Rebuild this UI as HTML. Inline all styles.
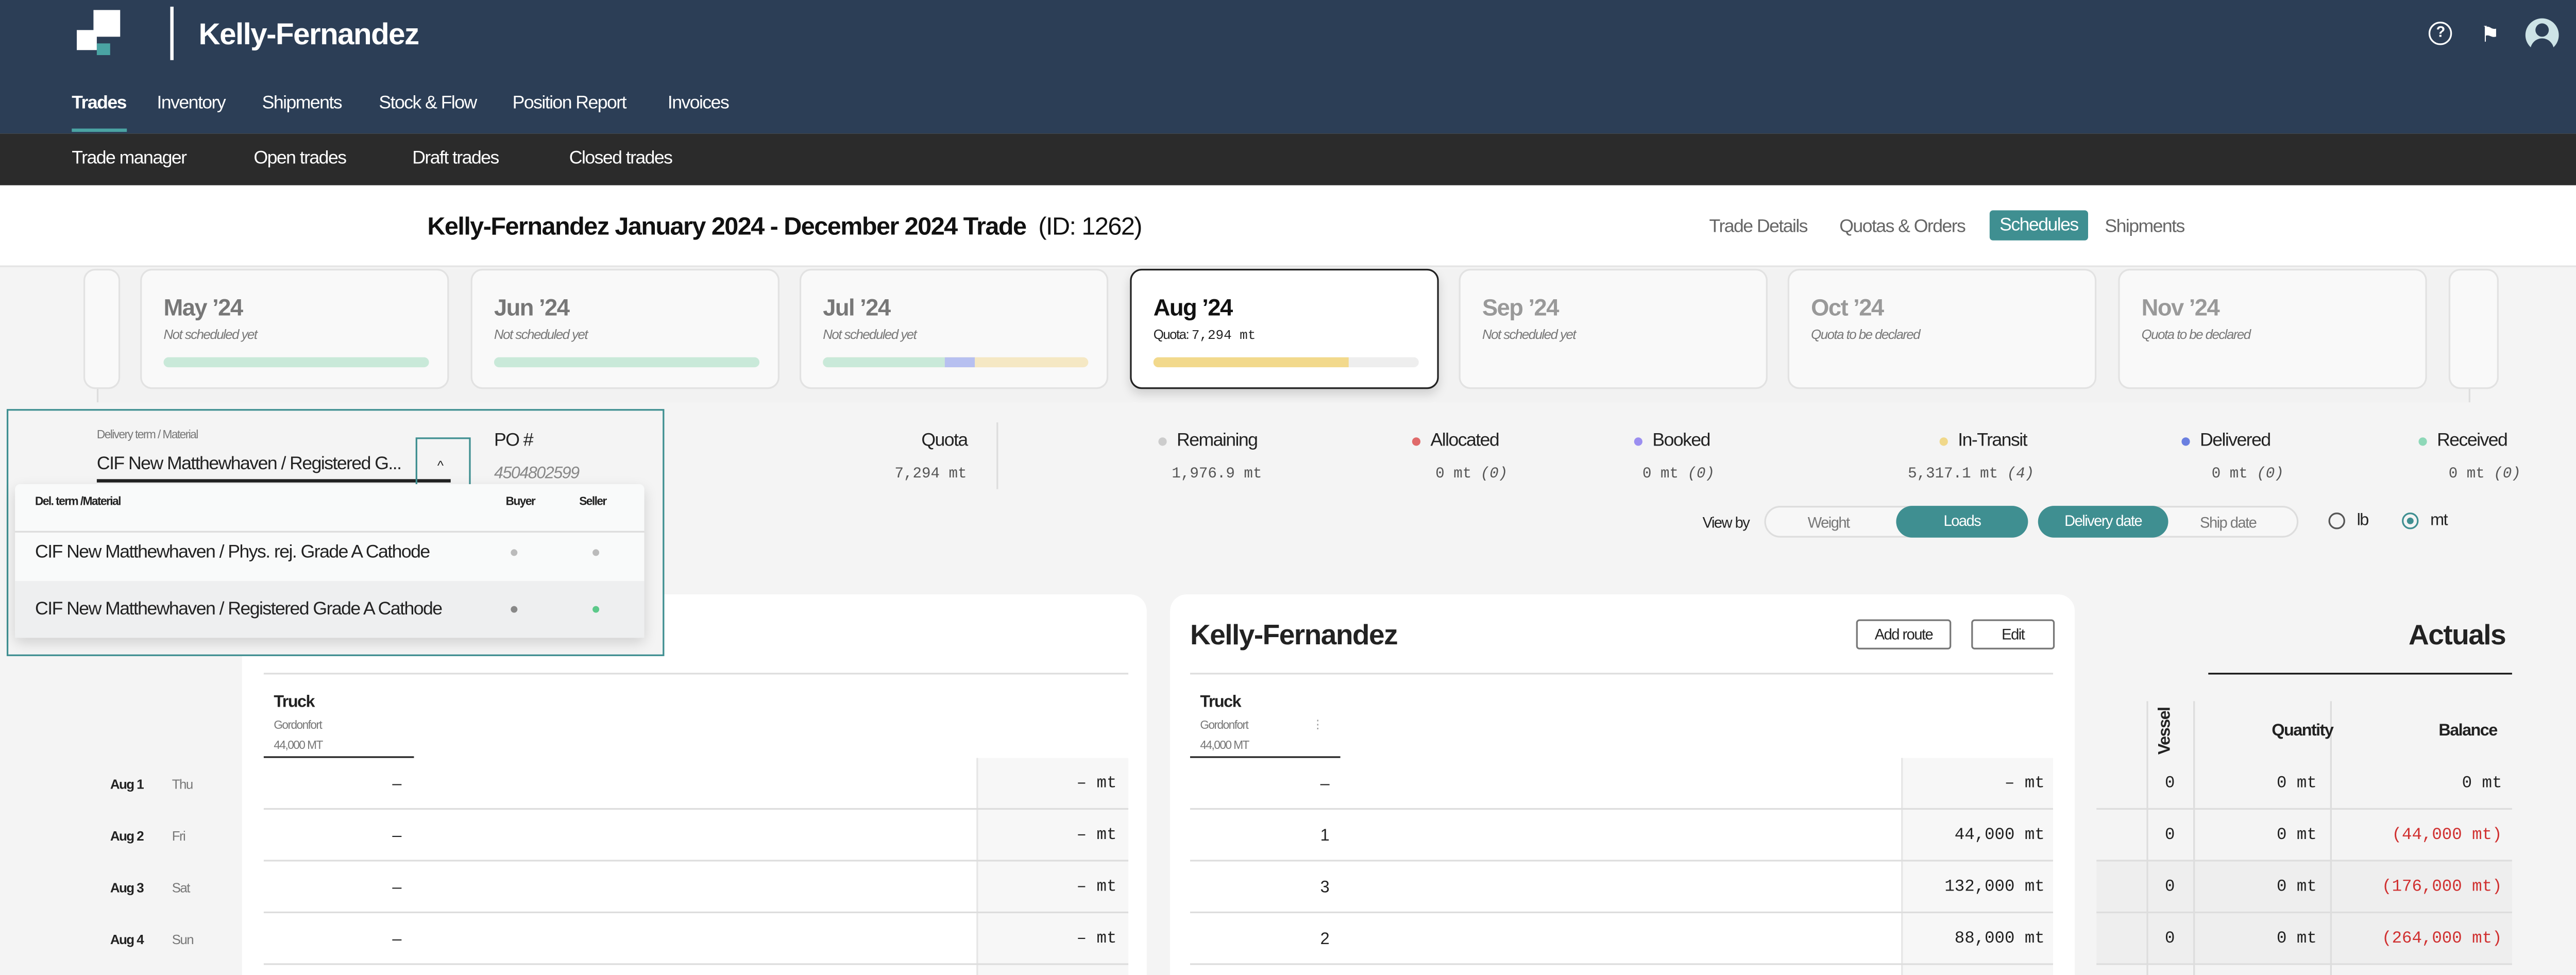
<!DOCTYPE html>
<html><head><meta charset="utf-8"><style>
*{margin:0;padding:0;box-sizing:border-box}
html,body{width:5080px;height:1893px;overflow:hidden;background:#f4f4f4}
#r{position:absolute;left:0;top:0;width:1568px;height:584px;transform:scale(3.2398,3.2414);transform-origin:0 0;font-family:"Liberation Sans",sans-serif;color:#222;background:#f4f4f4;overflow:hidden;letter-spacing:-0.03em}
.a{position:absolute;white-space:nowrap}
.m{font-family:"Liberation Mono",monospace;letter-spacing:0}
.c{transform:translateY(-50%)}
.card{position:absolute;top:161px;width:185px;height:72px;background:#f9f9f9;border:1px solid #e2e2e2;border-radius:7px}
.card .t{position:absolute;left:13px;top:14px;font-size:14px;font-weight:bold;color:#777}
.card .s{position:absolute;left:13px;top:34px;font-size:8px;font-style:italic;color:#777}
.card .b{position:absolute;left:13px;top:52px;width:159px;height:6px;border-radius:3px;background:#c9e9d9;overflow:hidden}
.dot{position:absolute;width:5px;height:5px;border-radius:50%}
.row{position:absolute;height:31px;border-bottom:1px solid #ddd}
</style></head><body><div id="r">
<div class="a" style="left:0;top:0;width:1568px;height:80px;background:#2c3e56"></div>
<div class="a" style="left:56px;top:6px;width:16px;height:16px;background:#fff"></div>
<div class="a" style="left:46px;top:18px;width:12px;height:12px;background:#fff"></div>
<div class="a" style="left:58px;top:26px;width:8px;height:7px;background:#4aa3a3"></div>
<div class="a" style="left:102px;top:4px;width:2px;height:32px;background:#fff"></div>
<div class="a c" style="left:119px;top:21px;font-size:18px;font-weight:bold;color:#fff">Kelly-Fernandez</div>
<div class="a" style="left:1455px;top:13px;width:14px;height:14px;border:1.5px solid #fff;border-radius:50%;color:#fff;font-size:9px;text-align:center;line-height:11px;font-weight:bold">?</div>
<div class="a c" style="left:1486px;top:21px;font-size:13px;color:#fff">⚑</div>
<div class="a" style="left:1513px;top:11px;width:20px;height:20px;border-radius:50%;background:#cde3e6"></div>
<div class="a" style="left:1519px;top:14px;width:8px;height:8px;border-radius:50%;background:#2c3e56"></div>
<div class="a" style="left:1516px;top:23px;width:14px;height:8px;border-radius:7px 7px 0 0;background:#2c3e56"></div>
<div class="a c" style="left:43px;top:62px;font-size:11px;font-weight:bold;color:#fff">Trades</div>
<div class="a" style="left:43px;top:77px;width:33px;height:2px;background:#4aa3a3"></div>
<div class="a c" style="left:94px;top:62px;font-size:11px;color:#fff">Inventory</div>
<div class="a c" style="left:157px;top:62px;font-size:11px;color:#fff">Shipments</div>
<div class="a c" style="left:227px;top:62px;font-size:11px;color:#fff">Stock &amp; Flow</div>
<div class="a c" style="left:307px;top:62px;font-size:11px;color:#fff">Position Report</div>
<div class="a c" style="left:400px;top:62px;font-size:11px;color:#fff">Invoices</div>
<div class="a" style="left:0;top:80px;width:1568px;height:31px;background:#2b2b2b"></div>
<div class="a c" style="left:43px;top:95px;font-size:11px;color:#fff">Trade manager</div>
<div class="a c" style="left:152px;top:95px;font-size:11px;color:#fff">Open trades</div>
<div class="a c" style="left:247px;top:95px;font-size:11px;color:#fff">Draft trades</div>
<div class="a c" style="left:341px;top:95px;font-size:11px;color:#fff">Closed trades</div>
<div class="a" style="left:0;top:111px;width:1568px;height:49px;background:#fff;border-bottom:1px solid #e4e4e4"></div>
<div class="a c" style="left:256px;top:136px;font-size:15px;color:#111"><b>Kelly-Fernandez January 2024 - December 2024 Trade</b> &nbsp;(ID: 1262)</div>
<div class="a c" style="left:1024px;top:136px;font-size:11px;color:#666">Trade Details</div>
<div class="a c" style="left:1102px;top:136px;font-size:11px;color:#666">Quotas &amp; Orders</div>
<div class="a" style="left:1192px;top:126px;width:59px;height:18px;background:#3f8f91;border-radius:2px;color:#fff;font-size:11px;text-align:center;line-height:18px">Schedules</div>
<div class="a c" style="left:1261px;top:136px;font-size:11px;color:#666">Shipments</div>
<div class="a" style="left:58px;top:161px;width:1422px;height:80px;background:#f2f2f2;border-left:1px solid #ddd;border-right:1px solid #ddd"></div>
<div class="card" style="left:50px;width:22px"></div>
<div class="card" style="left:84px"><div class="t">May ’24</div><div class="s">Not scheduled yet</div><div class="b"></div></div>
<div class="card" style="left:282px"><div class="t">Jun ’24</div><div class="s">Not scheduled yet</div><div class="b"></div></div>
<div class="card" style="left:479px"><div class="t">Jul ’24</div><div class="s">Not scheduled yet</div><div class="b" style="background:#f5e8c4"><div style="position:absolute;left:73px;width:18px;height:6px;background:#b7c0f0"></div><div style="position:absolute;left:0;width:73px;height:6px;background:#c9e9d9"></div></div></div>
<div class="card" style="left:677px;background:#fff;border:1px solid #222;box-shadow:0 3px 6px rgba(0,0,0,.15)"><div class="t" style="color:#111">Aug ’24</div><div class="s" style="font-style:normal;color:#222">Quota: <span class="m">7,294 mt</span></div><div class="b" style="background:#eee"><div style="width:117px;height:6px;background:#f2d98c"></div></div></div>
<div class="card" style="left:874px"><div class="t" style="color:#999">Sep ’24</div><div class="s">Not scheduled yet</div></div>
<div class="card" style="left:1071px"><div class="t" style="color:#999">Oct ’24</div><div class="s">Quota to be declared</div></div>
<div class="card" style="left:1269px"><div class="t" style="color:#999">Nov ’24</div><div class="s">Quota to be declared</div></div>
<div class="card" style="left:1467px;width:30px"></div>
<div class="a c" style="left:552px;top:264px;font-size:11px">Quota</div>
<div class="a c m" style="left:536px;top:284px;font-size:9px;color:#555">7,294 mt</div>
<div class="a" style="left:597px;top:253px;width:1px;height:40px;background:#ddd"></div>
<div class="dot" style="left:694px;top:262px;background:#ccc"></div><div class="a c" style="left:705px;top:264px;font-size:11px">Remaining</div>
<div class="a c m" style="left:702px;top:284px;font-size:9px;color:#555">1,976.9 mt</div>
<div class="dot" style="left:846px;top:262px;background:#e06a6a"></div><div class="a c" style="left:857px;top:264px;font-size:11px">Allocated</div>
<div class="a c m" style="left:860px;top:284px;font-size:9px;color:#555">0 mt <i>(0)</i></div>
<div class="dot" style="left:979px;top:262px;background:#9b8ef0"></div><div class="a c" style="left:990px;top:264px;font-size:11px">Booked</div>
<div class="a c m" style="left:984px;top:284px;font-size:9px;color:#555">0 mt <i>(0)</i></div>
<div class="dot" style="left:1162px;top:262px;background:#f0d88a"></div><div class="a c" style="left:1173px;top:264px;font-size:11px">In-Transit</div>
<div class="a c m" style="left:1143px;top:284px;font-size:9px;color:#555">5,317.1 mt <i>(4)</i></div>
<div class="dot" style="left:1307px;top:262px;background:#6a7fe0"></div><div class="a c" style="left:1318px;top:264px;font-size:11px">Delivered</div>
<div class="a c m" style="left:1325px;top:284px;font-size:9px;color:#555">0 mt <i>(0)</i></div>
<div class="dot" style="left:1449px;top:262px;background:#8ed8b8"></div><div class="a c" style="left:1460px;top:264px;font-size:11px">Received</div>
<div class="a c m" style="left:1467px;top:284px;font-size:9px;color:#555">0 mt <i>(0)</i></div>
<div class="a c" style="left:1020px;top:313px;font-size:9px">View by</div>
<div class="a" style="left:1057px;top:303px;width:158px;height:19px;border:1px solid #ddd;border-radius:10px;background:#f7f7f7"></div>
<div class="a c" style="left:1083px;top:313px;font-size:9px;color:#777">Weight</div>
<div class="a" style="left:1136px;top:303px;width:79px;height:19px;border-radius:10px;background:#3f8f91;color:#fff;font-size:9px;text-align:center;line-height:19px">Loads</div>
<div class="a" style="left:1221px;top:303px;width:156px;height:19px;border:1px solid #ddd;border-radius:10px;background:#f7f7f7"></div>
<div class="a" style="left:1221px;top:303px;width:78px;height:19px;border-radius:10px;background:#3f8f91;color:#fff;font-size:9px;text-align:center;line-height:19px">Delivery date</div>
<div class="a c" style="left:1318px;top:313px;font-size:9px;color:#777">Ship date</div>
<div class="a" style="left:1395px;top:307px;width:10px;height:10px;border:1px solid #555;border-radius:50%"></div>
<div class="a c" style="left:1412px;top:312px;font-size:10px">lb</div>
<div class="a" style="left:1439px;top:307px;width:10px;height:10px;border:1px solid #3f8f91;border-radius:50%"></div>
<div class="a" style="left:1442px;top:310px;width:4px;height:4px;background:#3f8f91;border-radius:50%"></div>
<div class="a c" style="left:1456px;top:312px;font-size:10px">mt</div>
<div class="a" style="left:145px;top:356px;width:542px;height:240px;background:#fff;border-radius:10px"></div>
<div class="a" style="left:701px;top:356px;width:542px;height:240px;background:#fff;border-radius:10px"></div>
<div class="a c" style="left:157px;top:381px;font-size:17px;font-weight:bold">Hanson PLC</div>
<div class="a" style="left:158px;top:403px;width:518px;height:1px;background:#ddd"></div>
<div class="a c" style="left:164px;top:421px;font-size:10px;font-weight:bold">Truck</div>
<div class="a c" style="left:164px;top:435px;font-size:7px;color:#777">Gordonfort</div>
<div class="a c" style="left:164px;top:447px;font-size:7px;color:#777">44,000 MT</div>
<div class="a" style="left:158px;top:453px;width:90px;height:1px;background:#222"></div>
<div class="a" style="left:585px;top:454px;width:91px;height:130px;background:#f7f7f7;border-left:1px solid #e6e6e6"></div>
<div class="a c" style="left:713px;top:381px;font-size:17px;font-weight:bold">Kelly-Fernandez</div>
<div class="a" style="left:1112px;top:371px;width:57px;height:18px;border:1px solid #777;border-radius:2px;font-size:9px;text-align:center;line-height:16px">Add route</div>
<div class="a" style="left:1181px;top:371px;width:50px;height:18px;border:1px solid #777;border-radius:2px;font-size:9px;text-align:center;line-height:16px">Edit</div>
<div class="a" style="left:713px;top:403px;width:517px;height:1px;background:#ddd"></div>
<div class="a c" style="left:719px;top:421px;font-size:10px;font-weight:bold">Truck</div>
<div class="a c" style="left:719px;top:435px;font-size:7px;color:#777">Gordonfort</div>
<div class="a c" style="left:786px;top:434px;font-size:7px;color:#999">⋮</div>
<div class="a c" style="left:719px;top:447px;font-size:7px;color:#777">44,000 MT</div>
<div class="a" style="left:713px;top:453px;width:90px;height:1px;background:#222"></div>
<div class="a" style="left:1139px;top:454px;width:91px;height:130px;background:#f7f7f7;border-left:1px solid #e6e6e6"></div>
<div class="a c" style="left:1443px;top:381px;font-size:17px;font-weight:bold">Actuals</div>
<div class="a" style="left:1323px;top:403px;width:182px;height:1px;background:#111"></div>
<div class="a" style="left:1256px;top:516px;width:249px;height:62px;background:#eee"></div>
<div class="a" style="left:1286px;top:420px;width:1px;height:164px;background:#ddd"></div>
<div class="a" style="left:1314px;top:420px;width:1px;height:164px;background:#ddd"></div>
<div class="a" style="left:1396px;top:420px;width:1px;height:164px;background:#ddd"></div>
<div class="a" style="left:1292px;font-size:10px;font-weight:bold;transform:rotate(-90deg);transform-origin:0 0;top:452px">Vessel</div>
<div class="a c" style="left:1361px;top:438px;font-size:10px;font-weight:bold">Quantity</div>
<div class="a c" style="left:1461px;top:438px;font-size:10px;font-weight:bold">Balance</div>
<div class="row" style="left:158px;top:454px;width:518px"></div><div class="row" style="left:158px;top:485px;width:518px"></div><div class="row" style="left:158px;top:516px;width:518px"></div><div class="row" style="left:158px;top:547px;width:518px"></div>
<div class="row" style="left:713px;top:454px;width:517px"></div><div class="row" style="left:713px;top:485px;width:517px"></div><div class="row" style="left:713px;top:516px;width:517px"></div><div class="row" style="left:713px;top:547px;width:517px"></div>
<div class="row" style="left:1256px;top:454px;width:249px"></div><div class="row" style="left:1256px;top:485px;width:249px"></div><div class="row" style="left:1256px;top:516px;width:249px"></div><div class="row" style="left:1256px;top:547px;width:249px"></div>
<div class="a c" style="left:66px;top:470px;font-size:8px;font-weight:bold">Aug 1</div><div class="a c" style="left:103px;top:470px;font-size:8px;color:#777">Thu</div>
<div class="a c" style="left:66px;top:501px;font-size:8px;font-weight:bold">Aug 2</div><div class="a c" style="left:103px;top:501px;font-size:8px;color:#777">Fri</div>
<div class="a c" style="left:66px;top:532px;font-size:8px;font-weight:bold">Aug 3</div><div class="a c" style="left:103px;top:532px;font-size:8px;color:#777">Sat</div>
<div class="a c" style="left:66px;top:563px;font-size:8px;font-weight:bold">Aug 4</div><div class="a c" style="left:103px;top:563px;font-size:8px;color:#777">Sun</div>
<div class="a c" style="left:235px;top:470px;font-size:10px">–</div><div class="a c" style="left:235px;top:501px;font-size:10px">–</div><div class="a c" style="left:235px;top:532px;font-size:10px">–</div><div class="a c" style="left:235px;top:563px;font-size:10px">–</div>
<div class="a c m" style="right:899px;top:470px;font-size:10px">– mt</div><div class="a c m" style="right:899px;top:501px;font-size:10px">– mt</div><div class="a c m" style="right:899px;top:532px;font-size:10px">– mt</div><div class="a c m" style="right:899px;top:563px;font-size:10px">– mt</div>
<div class="a c" style="left:791px;top:470px;font-size:10px">–</div><div class="a c" style="left:791px;top:501px;font-size:10px">1</div><div class="a c" style="left:791px;top:532px;font-size:10px">3</div><div class="a c" style="left:791px;top:563px;font-size:10px">2</div>
<div class="a c m" style="right:343px;top:470px;font-size:10px">– mt</div><div class="a c m" style="right:343px;top:501px;font-size:10px">44,000 mt</div><div class="a c m" style="right:343px;top:532px;font-size:10px">132,000 mt</div><div class="a c m" style="right:343px;top:563px;font-size:10px">88,000 mt</div>
<div class="a c m" style="left:1297px;top:470px;font-size:10px">0</div><div class="a c m" style="left:1297px;top:501px;font-size:10px">0</div><div class="a c m" style="left:1297px;top:532px;font-size:10px">0</div><div class="a c m" style="left:1297px;top:563px;font-size:10px">0</div>
<div class="a c m" style="right:180px;top:470px;font-size:10px">0 mt</div><div class="a c m" style="right:180px;top:501px;font-size:10px">0 mt</div><div class="a c m" style="right:180px;top:532px;font-size:10px">0 mt</div><div class="a c m" style="right:180px;top:563px;font-size:10px">0 mt</div>
<div class="a c m" style="right:69px;top:470px;font-size:10px">0 mt</div><div class="a c m" style="right:69px;top:501px;font-size:10px;color:#d03030">(44,000 mt)</div><div class="a c m" style="right:69px;top:532px;font-size:10px;color:#d03030">(176,000 mt)</div><div class="a c m" style="right:69px;top:563px;font-size:10px;color:#d03030">(264,000 mt)</div>
<div class="a" style="left:4px;top:245px;width:394px;height:148px;border:1px solid #3f8f91;background:#f4f4f4"></div>
<div class="a c" style="left:58px;top:261px;font-size:7px;color:#777">Delivery term / Material</div>
<div class="a c" style="left:58px;top:278px;font-size:11px">CIF New Matthewhaven / Registered G...</div>
<div class="a" style="left:58px;top:287px;width:212px;height:2px;background:#222"></div>
<div class="a" style="left:249px;top:262px;width:33px;height:31px;border:1px solid #3f8f91"></div>
<div class="a c" style="left:262px;top:279px;font-size:8px">^</div>
<div class="a c" style="left:296px;top:264px;font-size:11px">PO #</div>
<div class="a c" style="left:296px;top:284px;font-size:10px;font-style:italic;color:#888">4504802599</div>
<div class="a" style="left:9px;top:290px;width:377px;height:92px;background:#f9fafa;box-shadow:0 3px 8px rgba(0,0,0,.15);border-radius:3px"></div>
<div class="a c" style="left:21px;top:301px;font-size:7px;font-weight:bold">Del. term /Material</div>
<div class="a c" style="left:303px;top:301px;font-size:7px;font-weight:bold">Buyer</div>
<div class="a c" style="left:347px;top:301px;font-size:7px;font-weight:bold">Seller</div>
<div class="a" style="left:9px;top:318px;width:377px;height:1px;background:#ddd"></div>
<div class="a c" style="left:21px;top:331px;font-size:11px">CIF New Matthewhaven / Phys. rej. Grade A Cathode</div>
<div class="dot" style="left:306px;top:329px;width:4px;height:4px;background:#bbb"></div>
<div class="dot" style="left:355px;top:329px;width:4px;height:4px;background:#bbb"></div>
<div class="a" style="left:9px;top:348px;width:377px;height:34px;background:#eeeff0"></div>
<div class="a c" style="left:21px;top:365px;font-size:11px">CIF New Matthewhaven / Registered Grade A Cathode</div>
<div class="dot" style="left:306px;top:363px;width:4px;height:4px;background:#888"></div>
<div class="dot" style="left:355px;top:363px;width:4px;height:4px;background:#5cc98a"></div>
</div></body></html>
